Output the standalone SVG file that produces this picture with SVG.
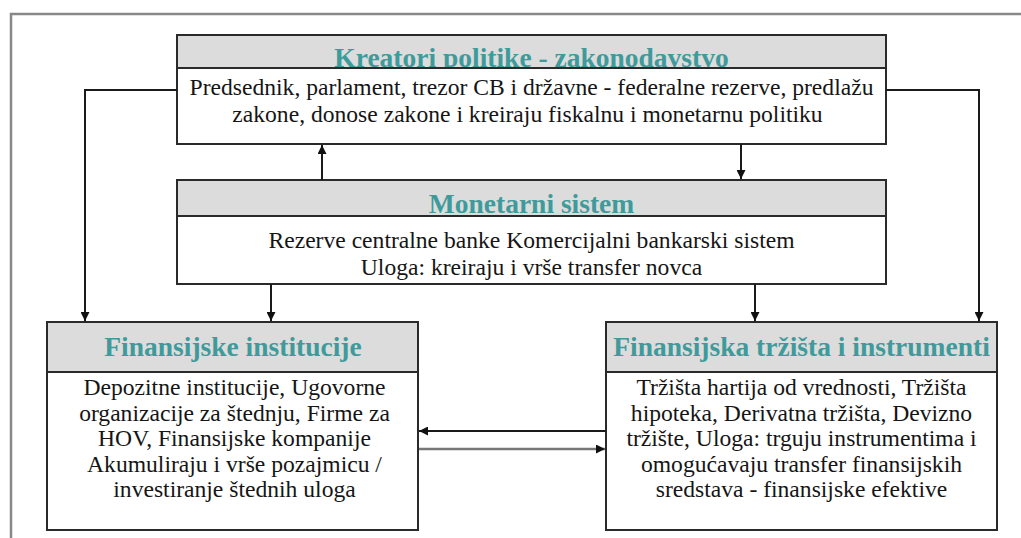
<svg xmlns="http://www.w3.org/2000/svg" width="1021" height="538" viewBox="0 0 1021 538">
<defs>
<marker id="ah" viewBox="0 0 10 10" refX="10" refY="5" markerWidth="9" markerHeight="9" markerUnits="userSpaceOnUse" orient="auto">
<path d="M0,0 L10,5 L0,10 z" fill="#111"/>
</marker>
<style>
.hdr{fill:#dcdcdc;stroke:#2a2a2a;stroke-width:2}
.body{fill:#ffffff;stroke:#2a2a2a;stroke-width:2}
.ttl{font-family:"Liberation Serif","Times New Roman",serif;font-weight:bold;font-size:27.5px;fill:#3f9b9b;text-anchor:middle}
.txt{font-family:"Liberation Serif","Times New Roman",serif;font-size:23.6px;fill:#151515;text-anchor:middle}
.con{fill:none;stroke:#1a1a1a;stroke-width:2}
</style>
</defs>
<rect x="0" y="0" width="1021" height="538" fill="#ffffff"/>
<path d="M11,538 L11,14 L1021,14" fill="none" stroke="#888" stroke-width="2.5"/>

<g id="kreatori">
<rect class="hdr" x="177" y="35" width="709" height="33"/>
<text class="ttl" x="531.5" y="67">Kreatori politike - zakonodavstvo</text>
<rect class="body" x="177" y="68" width="709" height="76"/>
<text class="txt" x="531.5" y="95">Predsednik, parlament, trezor CB i državne - federalne rezerve, predlažu</text>
<text class="txt" x="527.5" y="122">zakone, donose zakone i kreiraju fiskalnu i monetarnu politiku</text>
</g>

<g id="monetarni">
<rect class="hdr" x="177" y="180" width="709" height="36"/>
<text class="ttl" x="531.5" y="213">Monetarni sistem</text>
<rect class="body" x="177" y="216" width="709" height="68"/>
<text class="txt" x="531.5" y="248">Rezerve centralne banke Komercijalni bankarski sistem</text>
<text class="txt" x="531.5" y="275">Uloga: kreiraju i vrše transfer novca</text>
</g>

<g id="institucije">
<rect class="hdr" x="47" y="322" width="371" height="50"/>
<text class="ttl" x="233" y="356">Finansijske institucije</text>
<rect class="body" x="47" y="372" width="371" height="158"/>
<text class="txt" x="234.5" y="395">Depozitne institucije, Ugovorne</text>
<text class="txt" x="234.5" y="420.5">organizacije za štednju, Firme za</text>
<text class="txt" x="234.5" y="446">HOV, Finansijske kompanije</text>
<text class="txt" x="234.5" y="471.5">Akumuliraju i vrše pozajmicu /</text>
<text class="txt" x="234.5" y="497">investiranje štednih uloga</text>
</g>

<g id="trzista">
<rect class="hdr" x="606" y="322" width="391" height="50"/>
<text class="ttl" x="801.5" y="356">Finansijska tržišta i instrumenti</text>
<rect class="body" x="606" y="372" width="391" height="158"/>
<text class="txt" x="801.5" y="395">Tržišta hartija od vrednosti, Tržišta</text>
<text class="txt" x="801.5" y="420.5">hipoteka, Derivatna tržišta, Devizno</text>
<text class="txt" x="801.5" y="446">tržište, Uloga: trguju instrumentima i</text>
<text class="txt" x="801.5" y="471.5">omogućavaju transfer finansijskih</text>
<text class="txt" x="801.5" y="497">sredstava - finansijske efektive</text>
</g>

<g id="connectors">
<path class="con" d="M177,90 L85,90 L85,321" marker-end="url(#ah)"/>
<path class="con" d="M886,90 L979,90 L979,321" marker-end="url(#ah)"/>
<path class="con" d="M322,180 L322,145" marker-end="url(#ah)"/>
<path class="con" d="M741,144 L741,179" marker-end="url(#ah)"/>
<path class="con" d="M271,284 L271,321" marker-end="url(#ah)"/>
<path class="con" d="M755,284 L755,321" marker-end="url(#ah)"/>
<path class="con" d="M606,431 L419,431" marker-end="url(#ah)"/>
<path class="con" d="M419,449 L605,449" marker-end="url(#ah)" style="stroke:#777;stroke-width:2.5"/>
</g>
</svg>
